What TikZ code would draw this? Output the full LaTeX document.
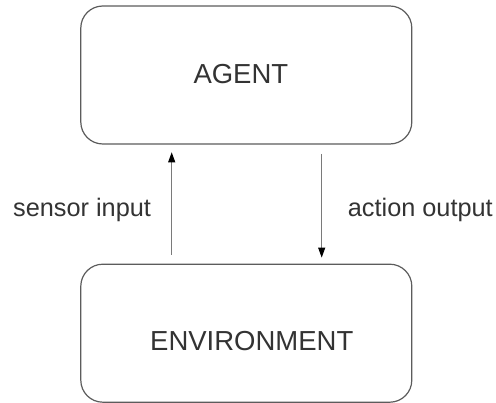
\documentclass[tikz,border=0pt]{standalone}
\usepackage{fontspec}
\setmainfont{Liberation Sans}
\usetikzlibrary{arrows.meta,calc}
\definecolor{inktext}{HTML}{333333}
\definecolor{boxline}{HTML}{5C5C5C}
\definecolor{flowline}{HTML}{7A7A7A}
\tikzset{
  block/.style={draw=boxline, line width=1.2pt, rounded corners=22pt,
    minimum width=331pt, minimum height=138pt, inner sep=0pt, fill=white},
  blocklabel/.style={inner sep=0pt, text=inktext, font=\fontsize{27.5}{30}\selectfont, anchor=base west},
  flowlabel/.style={inner sep=0pt, text=inktext, font=\fontsize{25.3}{28}\selectfont, anchor=base west},
  flow/.style={draw=flowline, line width=1pt, -{Triangle[length=10pt,width=7pt,fill=black,color=black]}}
}
\begin{document}
\begin{tikzpicture}[x=1pt,y=-1pt]
  \useasboundingbox (0,0) rectangle (496,403);
  % the two boxes
  \node[block] (agent) at (246.3,75) {};
  \node[block] (env) at (246.3,333.2) {};
  \node[blocklabel] (agenttext) at (193.3,84) {AGENT};
  \node[blocklabel] (envtext) at (150,350.7) {ENVIRONMENT};
  % columns of the two connectors
  \coordinate (upx) at (171.7,0);
  \coordinate (dnx) at (321.7,0);
  \draw[flow] ($(env.north -| upx)+(0,-8.6)$) -- ($(agent.south -| upx)+(0,7.7)$);
  \draw[flow] ($(agent.south -| dnx)+(0,9.3)$) -- ($(env.north -| dnx)+(0,-6)$);
  % connector labels
  \node[flowlabel] (sensor) at (13,216.7) {sensor input};
  \node[flowlabel] (action) at (347.7,216.7) {action output};
\end{tikzpicture}
\end{document}
